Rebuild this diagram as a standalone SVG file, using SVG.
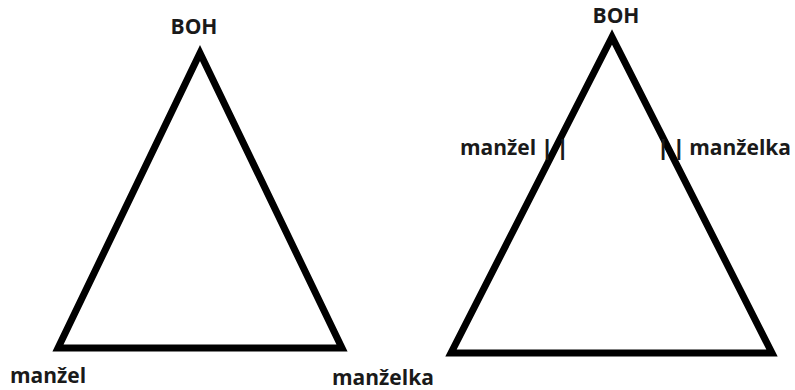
<svg xmlns="http://www.w3.org/2000/svg" width="795" height="390" viewBox="0 0 795 390">
<style>
.tri{fill:none;stroke:#000;stroke-width:7;stroke-linejoin:miter;stroke-miterlimit:3}
.lbl{font-family:"Open Sans","Noto Sans","DejaVu Sans",sans-serif;font-weight:bold;font-size:21px;fill:#1a1a1a}
.bars{letter-spacing:5px;font-weight:900}
</style>
<rect width="795" height="390" fill="#fff"/>
<g id="connectors">
<polygon id="tri-left" class="tri" points="200,53 58,348 342,348"/>
<polygon id="tri-right" class="tri" points="612,37 451,353 772,353"/>
</g>
<g id="boh-left"><text class="lbl" x="194" y="34" text-anchor="middle">BOH</text></g>
<g id="manzel-left"><text class="lbl" x="10" y="383">manžel</text></g>
<g id="manzelka-left"><text class="lbl" x="332" y="385">manželka</text></g>
<g id="boh-right"><text class="lbl" x="616" y="23" text-anchor="middle">BOH</text></g>
<g id="manzel-right"><text class="lbl" x="460" y="155">manžel <tspan class="bars">||</tspan></text></g>
<g id="manzelka-right"><text class="lbl" x="791" y="155" text-anchor="end"><tspan class="bars">||</tspan>manželka</text></g>
</svg>
